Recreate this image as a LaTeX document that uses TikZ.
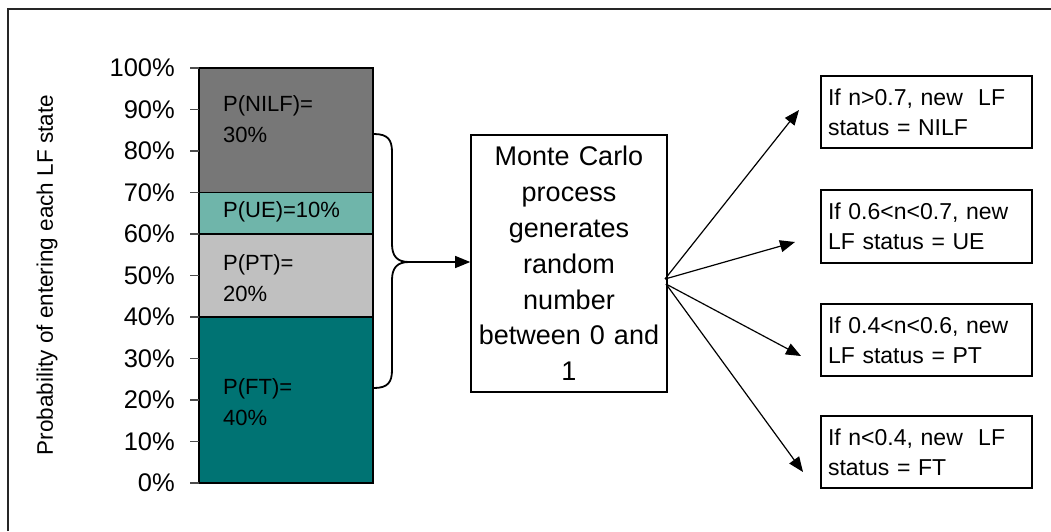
\documentclass[tikz,border=0pt]{standalone}
\usepackage{fontspec}
\setmainfont{Liberation Sans}
\usetikzlibrary{arrows.meta}
\definecolor{cnilf}{RGB}{119,119,119}
\definecolor{cue}{RGB}{111,181,170}
\definecolor{cpt}{RGB}{192,192,192}
\definecolor{cft}{RGB}{0,115,115}
\tikzset{
  seg/.style={draw=black, line width=1.8pt},
  tick/.style={draw=black!70, line width=1.2pt},
  ticklab/.style={anchor=east, inner sep=0pt, font=\fontsize{25.5}{28}\selectfont},
  barlab/.style={anchor=west, inner sep=0pt, align=left, font=\fontsize{22}{31}\selectfont},
  mcbox/.style={draw=black, line width=1.6pt, minimum width=196pt, minimum height=257pt, text width=190pt, align=center, inner sep=3pt, font=\fontsize{27}{35.8}\selectfont},
  outbox/.style={draw=black, line width=1.6pt, minimum width=211pt, minimum height=72.5pt, text width=197pt, align=left, inner xsep=7pt, font=\fontsize{23}{30}\selectfont},
  arr/.style={line width=1.2pt, -{Triangle[length=15pt,width=12pt]}},
}
\begin{document}
\begin{tikzpicture}[x=1pt,y=-1pt]
\useasboundingbox (0,0) rectangle (1051,531);
% outer frame (partly cropped)
\draw[line width=1.8pt, black!85] (8,531) -- (8,9) -- (1051,9);
% bar segments
\fill[cft] (199,317) rectangle (373,483);
\fill[cpt] (199,234) rectangle (373,317);
\fill[cue] (199,192.5) rectangle (373,234);
\fill[cnilf] (199,68) rectangle (373,192.5);
\draw[seg] (199,68) rectangle (373,483);
\draw[seg] (199,192.5) -- (373,192.5);
\draw[seg] (199,234) -- (373,234);
\draw[seg] (199,317) -- (373,317);
% ticks and labels
\foreach \p [count=\i from 0] in {0,10,20,30,40,50,60,70,80,90,100}{
  \draw[tick] (190,{483-41.5*\i}) -- (199,{483-41.5*\i});
  \node[ticklab] (tl\p) at (175,{483-41.5*\i}) {\p\%};
}
\node[rotate=90, inner sep=0pt, font=\fontsize{22.5}{26}\selectfont] (ylab) at (47,275) {Probability of entering each LF state};
% bar labels
\node[barlab] (lnilf) at (223,119.5) {P(NILF)=\\30\%};
\node[barlab] (lue) at (223,212) {P(UE)=10\%};
\node[barlab] (lpt) at (223,278) {P(PT)=\\20\%};
\node[barlab] (lft) at (223,402.5) {P(FT)=\\40\%};
% brace
\coordinate (btip) at (409,262);
\draw[line width=1.8pt] (374,134) .. controls (388,134) and (392,140) .. (392,152) -- (392,244) .. controls (392,256) and (397,262) .. (btip) .. controls (397,262) and (392,268) .. (392,280) -- (392,370) .. controls (392,382) and (388,388) .. (374,388);
% Monte Carlo box
\node[mcbox] (mc) at (569,263.5) {Monte Carlo\\process\\generates\\random\\number\\between 0 and\\1};
\draw[arr] (btip) -- (mc.west |- btip);
% outcome boxes
\node[outbox] (b1) at (926.5,112) {If n>0.7, new\ \ LF\\status = NILF};
\node[outbox] (b2) at (926.5,226.5) {If 0.6<n<0.7, new\\LF status = UE};
\node[outbox] (b3) at (926.5,340) {If 0.4<n<0.6, new\\LF status = PT};
\node[outbox] (b4) at (926.5,452) {If n<0.4, new\ \ LF\\status = FT};
% arrows
\coordinate (o1) at (665,279);
\coordinate (o2) at (666,284);
\coordinate (t1) at (799,110);
\coordinate (t2) at (795,242);
\coordinate (t3) at (801,356);
\coordinate (t4) at (803,472);
\draw[arr] (o1) -- (t1);
\draw[arr] (o1) -- (t2);
\draw[arr] (o2) -- (t3);
\draw[arr] (o2) -- (t4);
\end{tikzpicture}
\end{document}
